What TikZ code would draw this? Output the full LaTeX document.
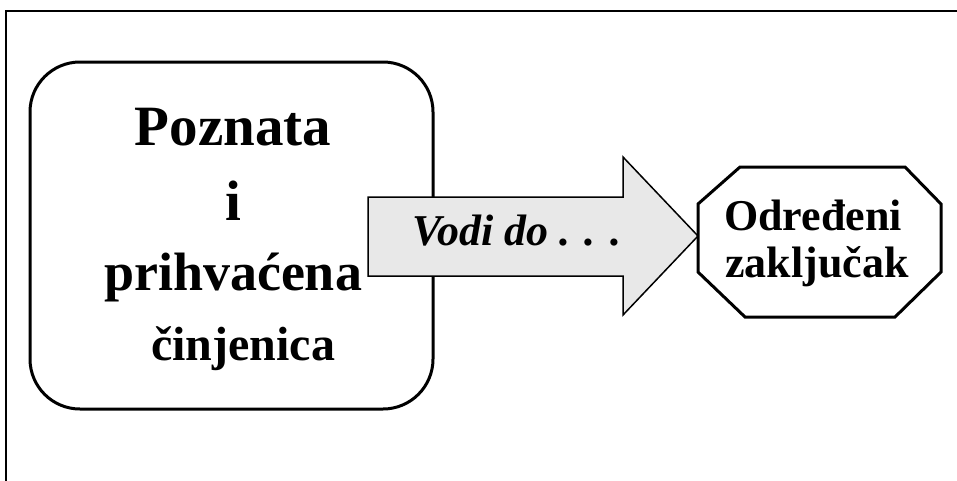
\documentclass[tikz,border=0pt]{standalone}
\usepackage{fontspec}
\setmainfont{Liberation Serif}
\definecolor{arrowgray}{HTML}{E8E8E8}
\tikzset{
  frameline/.style={line width=2.5pt},
  factbox/.style={draw, line width=3pt, rounded corners=50pt, minimum width=403pt, minimum height=347pt, inner sep=0pt},
  bigarrow/.style={draw, line width=1.5pt, fill=arrowgray, line join=miter},
  octline/.style={draw, line width=3pt, line join=miter, fill=white},
  txt/.style={anchor=base, inner sep=0pt, font=\bfseries}
}
\begin{document}
\begin{tikzpicture}[x=1pt,y=-1pt]
\useasboundingbox (0,0) rectangle (957,480);
% frame (top and left edges)
\coordinate (ftl) at (6,11);
\coordinate (ftr) at (960,11);
\coordinate (fbl) at (6,483);
\draw[frameline] (fbl) -- (ftl) -- (ftr);
% left rounded box
\node[factbox] (fact) at (231.5,235.5) {};
\node[txt, font=\bfseries\fontsize{57}{60}\selectfont] (l1) at (233,145) {Poznata};
\node[txt, font=\bfseries\fontsize{57}{60}\selectfont] (l2) at (233,220) {i};
\node[txt, font=\bfseries\fontsize{54}{58}\selectfont] (l3) at (233,290) {prihvaćena};
\node[txt, font=\bfseries\fontsize{48}{52}\selectfont] (l4) at (243,360) {činjenica};
% big arrow
\coordinate (a1) at (368,197);
\coordinate (a2) at (623,197);
\coordinate (a3) at (623,157);
\coordinate (a4) at (698,236);
\coordinate (a5) at (623,315);
\coordinate (a6) at (623,276);
\coordinate (a7) at (368,276);
\draw[bigarrow] (a1) -- (a2) -- (a3) -- (a4) -- (a5) -- (a6) -- (a7) -- cycle;
\node[txt, font=\bfseries\itshape\fontsize{44}{48}\selectfont] (lead) at (517,245) {Vodi do . . .};
% octagon
\coordinate (o1) at (698,204);
\coordinate (o2) at (740,167);
\coordinate (o3) at (905,167);
\coordinate (o4) at (941,204);
\coordinate (o5) at (941,272);
\coordinate (o6) at (895,317);
\coordinate (o7) at (745,317);
\coordinate (o8) at (698,272);
\path[octline] (o1) -- (o2) -- (o3) -- (o4) -- (o5) -- (o6) -- (o7) -- (o8) -- cycle;
\node[txt, font=\bfseries\fontsize{44}{48}\selectfont] (c1) at (813,230) {Određeni};
\node[txt, font=\bfseries\fontsize{44}{48}\selectfont] (c2) at (817,277) {zaključak};
\end{tikzpicture}
\end{document}
